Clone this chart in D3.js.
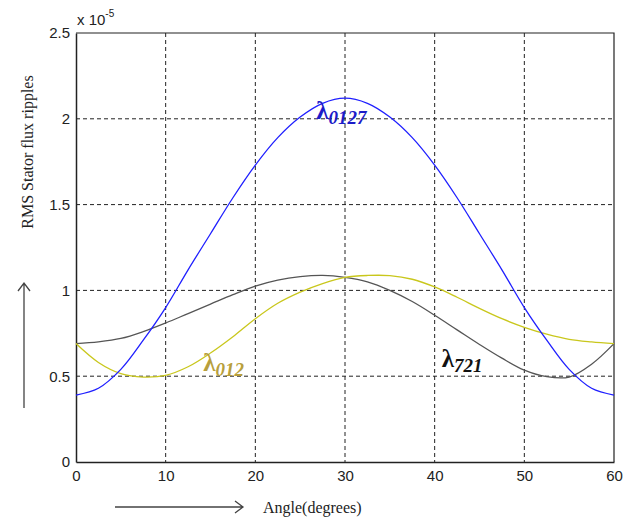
<!DOCTYPE html>
<html lang="en">
<head>
    <meta charset="UTF-8">
    <title>RMS Stator flux ripples</title>
    <script src="https://cdnjs.cloudflare.com/ajax/libs/d3/7.8.5/d3.min.js"></script>
    <style>
        body {
            margin: 0;
            background-color: #fff;
        }
        .tick text {
            font-family: Arial, "Liberation Sans", sans-serif;
            font-size: 15px;
            fill: #222;
        }
    </style>
</head>
<body>
    <div id="plot"></div>

    <script>
        // Data (values in units of 1e-5)
        const angles = [0, 2.5, 5, 7.5, 10, 12.5, 15, 17.5, 20, 22.5, 25, 27.5, 30,
                        32.5, 35, 37.5, 40, 42.5, 45, 47.5, 50, 52.5, 55, 57.5, 60];
        const lambda0127 = [0.39, 0.43, 0.54, 0.71, 0.90, 1.12, 1.33, 1.54, 1.73, 1.89, 2.01, 2.09, 2.12,
                            2.09, 2.01, 1.89, 1.73, 1.54, 1.33, 1.12, 0.90, 0.71, 0.54, 0.43, 0.39];
        const lambda721 = [0.69, 0.70, 0.72, 0.76, 0.81, 0.865, 0.92, 0.975, 1.025, 1.06, 1.08, 1.087, 1.076,
                           1.05, 1.0, 0.935, 0.855, 0.77, 0.685, 0.605, 0.535, 0.497, 0.495, 0.57, 0.69];
        const lambda012 = [0.69, 0.58, 0.515, 0.495, 0.505, 0.555, 0.635, 0.73, 0.835, 0.925, 0.99, 1.04, 1.076,
                           1.087, 1.086, 1.065, 1.02, 0.96, 0.895, 0.835, 0.785, 0.745, 0.715, 0.70, 0.69];
        const xTicks = [0, 10, 20, 30, 40, 50, 60];
        const yTicks = [0, 0.5, 1, 1.5, 2, 2.5];

        const margin = {top: 33, right: 11, bottom: 61, left: 76};
        const width = 625 - margin.left - margin.right;
        const height = 523 - margin.top - margin.bottom;

        const root = d3.select("#plot")
            .append("svg")
                .attr("width", 625)
                .attr("height", 523);

        const svg = root.append("g")
            .attr("transform", `translate(${margin.left},${margin.top})`);

        const x = d3.scaleLinear().domain([0, 60]).range([0, width]);
        const y = d3.scaleLinear().domain([0, 2.5]).range([height, 0]);

        // Grid
        svg.append("g")
            .selectAll("line")
            .data(xTicks.slice(1, -1))
            .join("line")
                .attr("x1", d => x(d)).attr("x2", d => x(d))
                .attr("y1", 0).attr("y2", height)
                .attr("stroke", "#222")
                .attr("stroke-dasharray", "4,3");

        svg.append("g")
            .selectAll("line")
            .data(yTicks.slice(1, -1))
            .join("line")
                .attr("x1", 0).attr("x2", width)
                .attr("y1", d => y(d)).attr("y2", d => y(d))
                .attr("stroke", "#222")
                .attr("stroke-dasharray", "4,3");

        // Axes
        svg.append("g")
            .attr("transform", `translate(0,${height})`)
            .call(d3.axisBottom(x).tickValues(xTicks).tickSize(0).tickPadding(8))
            .call(g => g.select(".domain").attr("stroke", "#222").attr("stroke-width", 1.5));

        svg.append("g")
            .call(d3.axisLeft(y).tickValues(yTicks).tickFormat(d3.format("")).tickSize(0).tickPadding(6))
            .call(g => g.select(".domain").attr("stroke", "#222").attr("stroke-width", 1.5));

        // Top and right border
        svg.append("path")
            .attr("d", `M0,0H${width}V${height}`)
            .attr("fill", "none")
            .attr("stroke", "#222")
            .attr("stroke-width", 1.2);

        // Exponent label
        const expo = svg.append("text")
            .attr("x", 1)
            .attr("y", -8)
            .style("font-family", "Arial, 'Liberation Sans', sans-serif")
            .style("font-size", "15px")
            .attr("fill", "#222");
        expo.append("tspan").text("x 10");
        expo.append("tspan").attr("dy", -8).style("font-size", "10px").text("-5");

        // Curves
        const line = d3.line()
            .x(d => x(d[0]))
            .y(d => y(d[1]))
            .curve(d3.curveCatmullRom);

        const series = [
            {values: lambda721, color: "#555555"},
            {values: lambda012, color: "#c9c71c"},
            {values: lambda0127, color: "#1f1fff"}
        ];

        series.forEach(s => {
            svg.append("path")
                .datum(angles.map((a, i) => [a, s.values[i]]))
                .attr("fill", "none")
                .attr("stroke", s.color)
                .attr("stroke-width", 1.3)
                .attr("d", line);
        });

        // Curve labels
        const labels = [
            {sub: "0127", at: [26.8, 2.0], color: "#1c1cc8"},
            {sub: "012", at: [14.2, 0.53], color: "#b89f3c"},
            {sub: "721", at: [40.8, 0.555], color: "#111"}
        ];

        labels.forEach(l => {
            const t = svg.append("text")
                .attr("x", x(l.at[0]))
                .attr("y", y(l.at[1]))
                .attr("fill", l.color)
                .style("font-family", "'Liberation Serif', 'Times New Roman', serif")
                .style("font-weight", "bold")
                .style("font-style", "italic");
            t.append("tspan").style("font-size", "25px").style("font-style", "normal").text("λ");
            t.append("tspan").attr("dy", 5).style("font-size", "19px").text(l.sub);
        });

        // Axis titles with arrows
        const serif = "'Liberation Serif', 'Times New Roman', serif";

        root.append("text")
            .attr("transform", "translate(33,152) rotate(-90)")
            .attr("text-anchor", "middle")
            .style("font-family", serif)
            .style("font-size", "16px")
            .attr("fill", "#222")
            .text("RMS Stator flux ripples");

        root.append("text")
            .attr("x", 263)
            .attr("y", 513)
            .style("font-family", serif)
            .style("font-size", "16px")
            .attr("fill", "#222")
            .text("Angle(degrees)");

        const arrow = root.append("g")
            .attr("fill", "none")
            .attr("stroke", "#444")
            .attr("stroke-width", 1.3);

        arrow.append("path").attr("d", "M24,408V283M18,291L24,283L30,291");
        arrow.append("path").attr("d", "M115,507H243M235,501L243,507L235,513");
    </script>
</body>
</html>
